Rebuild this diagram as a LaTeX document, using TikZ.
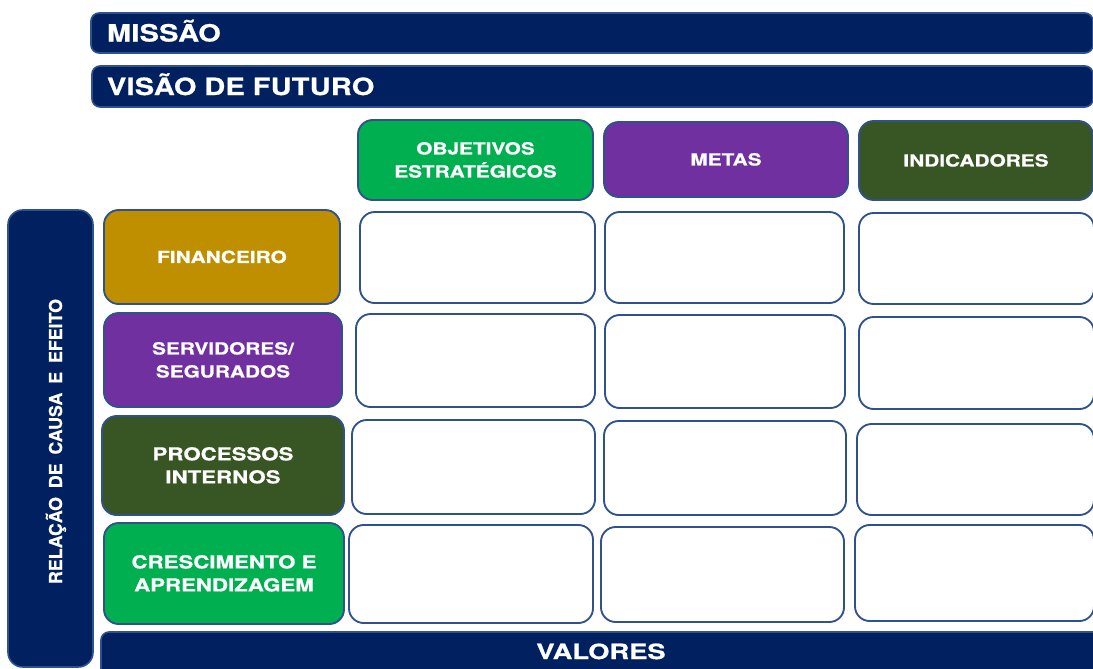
\documentclass[tikz,border=0pt]{standalone}
\usepackage{fontspec}
\setmainfont{Liberation Sans}
\newfontfamily\lblfont{texgyreheros-bold.otf}[FakeStretch=1.25,FakeBold=0.8]
\newfontfamily\barfont{texgyreheros-bold.otf}[FakeStretch=1.22,FakeBold=0.8,WordSpace=2.0,LetterSpace=1]
\newfontfamily\valfont{texgyreheros-bold.otf}[FakeStretch=1.3,FakeBold=0.8]
\newfontfamily\vertfont{texgyreheros-bold.otf}[WordSpace=1.8,FakeBold=0.6]
\definecolor{navy}{HTML}{002060}
\definecolor{edge}{HTML}{2F528F}
\definecolor{okgreen}{HTML}{00B050}
\definecolor{okpurple}{HTML}{7030A0}
\definecolor{okdark}{HTML}{375623}
\definecolor{okgold}{HTML}{BF8F00}
\newcommand\bx[7]{\node[#1,minimum width={(#4-#2)*0.75pt},minimum height={(#5-#3)*0.75pt}] (#6) at ({(#2+#4)/2},{(#3+#5)/2}) {#7};}
\begin{document}
\begin{tikzpicture}[x=0.75pt,y=-0.75pt,
  boxbase/.style={draw=edge,line width=1.4pt,rounded corners=11pt,inner sep=0pt,outer sep=0pt,text=white,align=center},
  cell/.style={boxbase,fill=white},
  hd/.style={boxbase,font=\lblfont\fontsize{12.5}{17.25}\selectfont,text height=8.97pt,text depth=0pt},
  hdtwo/.style={boxbase,font=\lblfont\fontsize{12.5}{17.25}\selectfont,text height=26.22pt,text depth=0pt},
  hdbig/.style={boxbase,font=\lblfont\fontsize{13.35}{17.25}\selectfont,text height=26.81pt,text depth=0pt},
  bar/.style={draw=edge,fill=navy,line width=1.2pt,rounded corners=6pt,inner sep=0pt,outer sep=0pt,text=white,align=left,font=\barfont\fontsize{17.8}{20}\selectfont,text height=12.75pt,text depth=0pt},
  sidebar/.style={draw=edge,fill=navy,line width=1.2pt,rounded corners=11pt,inner sep=0pt,outer sep=0pt}]
\useasboundingbox (0,0) rectangle (1093,668);
\clip (0,0) rectangle (1093,668);
% top bars
\node[bar,minimum width={1002*0.75pt},minimum height={40*0.75pt},text width={1002*0.75pt-24pt}] (missao) at (592,33) {MISSÃO};
\node[bar,minimum width={1001*0.75pt},minimum height={41*0.75pt},text width={1001*0.75pt-22.5pt}] (visao) at (592.5,86.5) {VISÃO DE FUTURO};
% column headers
\bx{hdtwo,fill=okgreen}{358}{120}{593}{200}{obj}{OBJETIVOS\\ESTRATÉGICOS}
\bx{hd,fill=okpurple}{604}{122}{848}{197}{metas}{METAS}
\bx{hd,fill=okdark}{859}{121}{1093}{200}{ind}{INDICADORES}
% left bar
\bx{sidebar}{8}{210}{93}{667}{rel}{}
\node[rotate=90,text=white,inner sep=0pt,font=\vertfont\fontsize{13.35}{15}\selectfont,text height=9.75pt,text depth=0pt] (reltxt) at (55.5,441.5) {RELAÇÃO DE CAUSA E EFEITO};
% row headers
\bx{hd,fill=okgold}{104}{210}{340}{304}{fin}{FINANCEIRO}
\bx{hdtwo,fill=okpurple}{104}{313}{342}{407}{serv}{SERVIDORES/\\SEGURADOS}
\bx{hdbig,fill=okdark}{102}{416}{344}{515}{proc}{PROCESSOS\\INTERNOS}
\bx{hdbig,fill=okgreen}{104}{523}{344}{624}{cres}{CRESCIMENTO E\\APRENDIZAGEM}
% cells
\bx{cell}{360}{212}{595}{303}{c11}{}
\bx{cell}{605}{212}{844}{303}{c12}{}
\bx{cell}{859}{213}{1094}{304}{c13}{}
\bx{cell}{356}{314}{595}{407}{c21}{}
\bx{cell}{605}{315}{845}{408}{c22}{}
\bx{cell}{859}{317}{1094}{409}{c23}{}
\bx{cell}{352}{420}{595}{514}{c31}{}
\bx{cell}{604}{421}{846}{515}{c32}{}
\bx{cell}{857}{424}{1094}{515}{c33}{}
\bx{cell}{349}{525}{593}{623}{c41}{}
\bx{cell}{601}{527}{844}{622}{c42}{}
\bx{cell}{855}{525}{1094}{621}{c43}{}
% valores
\bx{bar}{101}{632}{1106}{700}{valores}{}
\node[text=white,inner sep=0pt,font=\valfont\fontsize{15.75}{18}\selectfont,text height=11.3pt,text depth=0pt] (valtxt) at (601,651.5) {VALORES};
\end{tikzpicture}
\end{document}
